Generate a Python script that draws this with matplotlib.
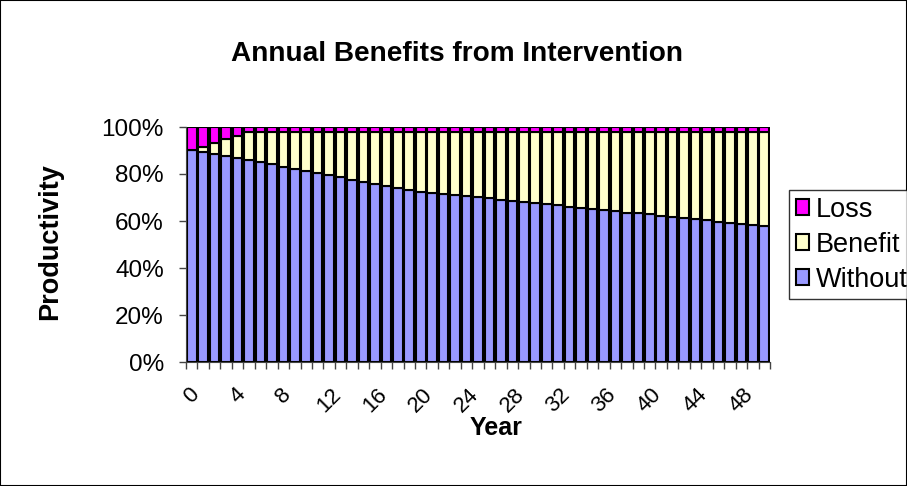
import matplotlib
matplotlib.use("Agg")
import matplotlib.pyplot as plt
from matplotlib.patches import Rectangle
import numpy as np

plt.rcParams['font.family'] = ['Liberation Sans', 'DejaVu Sans']

years = list(range(51))
without = [90.4, 89.4, 88.7, 87.7, 86.9, 86.0, 85.0, 84.1, 83.1, 82.1,
           81.3, 80.4, 79.6, 78.6, 77.6, 76.8, 75.8, 74.9, 74.1, 73.2,
           72.5, 72.0, 71.5, 71.0, 70.6, 70.1, 69.6, 69.1, 68.7, 68.2,
           67.7, 67.2, 66.6, 66.0, 65.6, 65.2, 64.6, 64.1, 63.6, 63.2,
           62.8, 62.2, 61.5, 61.1, 60.8, 60.3, 59.7, 59.3, 58.7, 58.1,
           57.7]
benefit = [0.0, 2.1, 4.5, 7.2, 9.3, 11.8, 12.8, 13.7, 14.7, 15.7,
           16.5, 17.4, 18.2, 19.2, 20.2, 21.0, 22.0, 22.9, 23.7, 24.6,
           25.3, 25.8, 26.3, 26.8, 27.2, 27.7, 28.2, 28.7, 29.1, 29.6,
           30.1, 30.6, 31.2, 31.8, 32.2, 32.6, 33.2, 33.7, 34.2, 34.6,
           35.0, 35.6, 36.3, 36.7, 37.0, 37.5, 38.1, 38.5, 39.1, 39.7,
           40.1]
loss = [9.6, 8.5, 6.8, 5.1, 3.8, 2.2, 2.2, 2.2, 2.2, 2.2,
        2.2, 2.2, 2.2, 2.2, 2.2, 2.2, 2.2, 2.2, 2.2, 2.2,
        2.2, 2.2, 2.2, 2.2, 2.2, 2.2, 2.2, 2.2, 2.2, 2.2,
        2.2, 2.2, 2.2, 2.2, 2.2, 2.2, 2.2, 2.2, 2.2, 2.2,
        2.2, 2.2, 2.2, 2.2, 2.2, 2.2, 2.2, 2.2, 2.2, 2.2,
        2.2]
tick_years = list(range(0, 49, 4))
y_ticks = [0, 20, 40, 60, 80, 100]

c_without = '#9999FF'
c_benefit = '#FFFFCC'
c_loss = '#FF00FF'

W, H = 907, 486
fig = plt.figure(figsize=(W / 100, H / 100), dpi=100)
ax = fig.add_axes([186 / W, 1 - 362 / H, (770 - 186) / W, (362 - 127) / H])

x = np.array(years)
wv = np.array(without)
bv = np.array(benefit)
lv = np.array(loss)
bw = 0.84
# shadow
ax.bar(x + 0.17, wv + bv + lv, bottom=-0.8, width=bw, color='#8c8c8c',
       edgecolor='none', zorder=2)
kw = dict(width=bw, edgecolor='black', linewidth=1.5, zorder=3)
ax.bar(x, wv, color=c_without, **kw)
ax.bar(x, bv, bottom=wv, color=c_benefit, **kw)
ax.bar(x, lv, bottom=wv + bv, color=c_loss, **kw)

ax.set_xlim(-0.5, len(years) - 0.5)
ax.set_ylim(0, 100)
for s in ['top', 'right']:
    ax.spines[s].set_visible(False)
ax.spines['left'].set_color('#444444')
ax.spines['bottom'].set_color('#444444')
ax.spines['left'].set_zorder(4)
ax.spines['bottom'].set_zorder(4)

ax.set_yticks(y_ticks)
ax.set_yticklabels([f"{v}%" for v in y_ticks], fontsize=17.5)
ax.tick_params(axis='y', length=5, width=1, color='#444444', pad=11)

ax.set_xticks(tick_years)
ax.set_xticklabels([str(t) for t in tick_years], rotation=45, fontsize=16,
                   ha='center', va='top')
ax.tick_params(axis='x', which='major', length=0, pad=16)
ax.set_xticks(np.arange(-0.5, len(years)), minor=True)
ax.tick_params(axis='x', which='minor', length=5, width=1, color='#444444')

fig.text(457 / W, 1 - 54 / H, 'Annual Benefits from Intervention',
         fontsize=20.2, fontweight='bold', ha='center', va='center')
fig.text(50 / W, 1 - 242 / H, 'Productivity', fontsize=19.5, fontweight='bold',
         rotation=90, ha='center', va='center')
fig.text(496 / W, 1 - 428 / H, 'Year', fontsize=18, fontweight='bold',
         ha='center', va='center')

handles = [Rectangle((0, 0), 1, 1, facecolor=c, edgecolor='black', linewidth=1.5)
           for c in (c_loss, c_benefit, c_without)]
leg = fig.legend(handles, ['Loss', 'Benefit', 'Without'],
                 loc='upper left', bbox_to_anchor=(789 / W, 1 - 190 / H),
                 fontsize=19.5, frameon=True, fancybox=False, handlelength=0.5,
                 handleheight=0.5, handletextpad=0.25, borderpad=0.25,
                 labelspacing=0.33, borderaxespad=0)
leg.get_frame().set_edgecolor('black')
leg.get_frame().set_linewidth(1)

fig.patches.append(Rectangle((0, 0), 1, 1, transform=fig.transFigure, fill=False,
                             edgecolor='black', linewidth=1.5))

fig.savefig('out.png', dpi=100)
